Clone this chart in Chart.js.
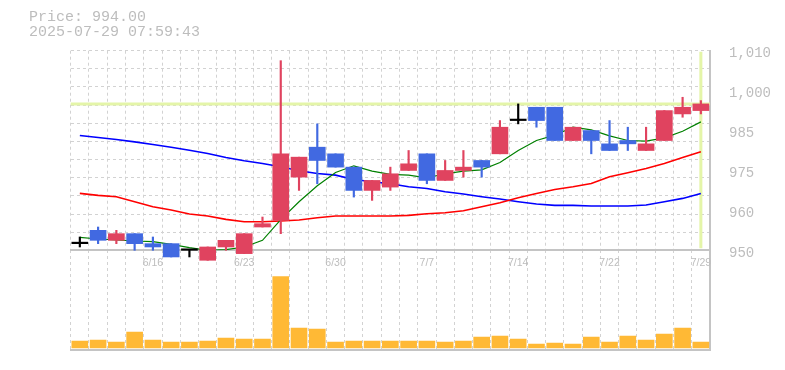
<!DOCTYPE html>
<html>
<head>
<meta charset="utf-8">
<script src="https://cdn.jsdelivr.net/npm/chart.js@4.4.1/dist/chart.umd.min.js"></script>
<style>
  body { margin: 0; background: #fff; }
  #wrap { position: relative; width: 785px; height: 370px; overflow: hidden; }
  #info { position: absolute; left: 29px; top: 11px; font: 15px "Liberation Mono", monospace; line-height: 14.5px; color: #bdbdbd; z-index: 3; }
  canvas { position: absolute; left: 0; top: 0; }
  #price { z-index: 2; }
  #volume { z-index: 1; }
</style>
</head>
<body>
<div id="wrap">
  <div id="info">Price: 994.00<br>2025-07-29 07:59:43</div>
  <canvas id="volume" width="785" height="370"></canvas>
  <canvas id="price" width="785" height="275"></canvas>
</div>
<script>
// trading days
const categories = ['6/10','6/11','6/12','6/13','6/16','6/17','6/18','6/19','6/20','6/23','6/24','6/25','6/26','6/27','6/30','7/1','7/2','7/3','7/4','7/7','7/8','7/9','7/10','7/11','7/14','7/15','7/16','7/17','7/18','7/22','7/23','7/24','7/25','7/28','7/29'];
const tickLabels = ['6/16','6/23','6/30','7/7','7/14','7/22','7/29'];

const open  = [952,956,953,955,952,952,948,947,951,949,957,959,972,981,979,975,968,969,974,979,971,974,977,979,989,993,993,983,986,982,983,980,983,991,992];
const high  = [954,957,956,955,954,952,950,951,953,955,960,1007,978,988,979,975,971,975,980,979,977,980,977,989,994,993,993,987,986,989,987,987,992,996,995];
const low   = [951,952,952,950,950,948,948,947,950,949,957,955,968,970,975,966,965,968,974,970,971,972,972,979,988,987,983,983,979,980,980,980,983,990,991];
const close = [952,953,955,952,951,948,948,951,953,955,958,979,978,977,975,968,971,973,976,971,974,975,975,987,989,989,983,987,983,980,982,982,992,993,994];

const ma5  = [953.9,953.4,953.1,952.8,952.6,951.8,950.8,950.0,950.2,951.0,953.0,959.2,964.6,969.4,973.4,975.4,973.8,972.8,972.6,971.8,973.0,973.8,974.2,976.4,980.0,983.0,984.6,987.0,986.2,984.4,983.0,982.8,983.8,985.8,988.6];
const ma25 = [967.1,966.5,966.1,964.6,963.1,962.1,960.9,960.3,959.3,958.6,958.6,958.8,959.1,959.8,960.3,960.3,960.3,960.3,960.5,961.0,961.3,961.9,963.1,964.3,965.8,967.1,968.3,969.1,970.1,972.1,973.3,974.6,976.1,977.9,979.6];
const ma75 = [984.5,983.9,983.3,982.6,981.8,981.0,980.1,979.1,977.9,976.9,976.1,975.1,973.9,973.1,972.6,971.3,970.6,970.0,969.1,968.6,967.6,966.9,966.1,965.4,964.6,963.9,963.5,963.5,963.3,963.3,963.3,963.6,964.6,965.6,967.1];

const volumes = [210,240,180,480,240,180,180,210,300,270,270,2140,600,570,180,210,210,210,210,210,180,210,330,360,270,120,150,120,330,180,360,240,420,600,180];

const lastPrice = 994;
const yTickValues = [950, 962, 974, 986, 998, 1010];
const yTickLabels = ['950', '960', '975', '985', '1,000', '1,010'];

const UP = '#e0435f', DOWN = '#4169e1', FLAT = '#000000';
const candleColors = open.map((o, i) => close[i] > o ? UP : (close[i] < o ? DOWN : FLAT));
const bodies = open.map((o, i) => [o, close[i]]);
const wicks = low.map((l, i) => [l, high[i]]);

const gridValues = [];
for (let i = 0; i <= 11; i++) gridValues.push(950 + i * 60 / 11);

const GRID = '#d2d2d2', AXIS = '#c4c4c4', TEXT = '#bdbdbd';

const priceMarker = {
    id: 'priceMarker',
    beforeDatasetsDraw(chart) {
        const { ctx, chartArea: a, scales: { x, y } } = chart;
        const py = y.getPixelForValue(lastPrice);
        const px = x.getPixelForValue(categories.length - 1);
        ctx.save();
        ctx.strokeStyle = '#e4f5a8';
        ctx.lineWidth = 3;
        ctx.beginPath();
        ctx.moveTo(a.left, py);
        ctx.lineTo(a.right, py);
        ctx.moveTo(px, a.top + 1);
        ctx.lineTo(px, a.bottom - 2);
        ctx.stroke();
        ctx.restore();
    }
};

new Chart(document.getElementById('price'), {
    type: 'bar',
    data: {
        labels: categories,
        datasets: [
            { type: 'bar', data: bodies, backgroundColor: candleColors, barThickness: 16, minBarLength: 1.5, grouped: false, clip: false, order: 1 },
            { type: 'bar', data: wicks, backgroundColor: candleColors, barThickness: 1.5, grouped: false, clip: false, order: 2 },
            { type: 'line', data: ma5, borderColor: '#008000', borderWidth: 1.2, pointRadius: 0, tension: 0, order: 3 },
            { type: 'line', data: ma25, borderColor: '#ff0000', borderWidth: 1.6, pointRadius: 0, tension: 0, order: 4 },
            { type: 'line', data: ma75, borderColor: '#0000ff', borderWidth: 1.6, pointRadius: 0, tension: 0, order: 5 }
        ]
    },
    options: {
        responsive: false,
        animation: false,
        devicePixelRatio: 1,
        layout: { padding: { left: 70.7, top: 50.7, right: 0, bottom: 0 } },
        plugins: { legend: { display: false }, tooltip: { enabled: false } },
        scales: {
            x: {
                offset: true,
                grid: { offset: true, color: GRID, drawTicks: false },
                border: { color: AXIS, width: 2, dash: [3, 3] },
                ticks: {
                    autoSkip: false, maxRotation: 0, minRotation: 0,
                    callback: (v, i) => tickLabels.includes(categories[i]) ? categories[i] : '',
                    color: TEXT, font: { family: 'Liberation Sans', size: 10.5 }, padding: 7
                },
                afterFit: s => { s.height = 24.7; }
            },
            y: {
                position: 'right', min: 950, max: 1010,
                afterBuildTicks: s => { s.ticks = yTickValues.map(v => ({ value: v })); },
                ticks: {
                    callback: (v, i) => yTickLabels[i],
                    color: TEXT, font: { family: 'Liberation Mono', size: 14 }, padding: 11, labelOffset: 2.5
                },
                grid: { display: false },
                border: { color: AXIS, width: 2 },
                afterFit: s => { s.width = 75; }
            },
            y2: {
                position: 'left', min: 950, max: 1010,
                afterBuildTicks: s => { s.ticks = gridValues.map(v => ({ value: v })); },
                ticks: { display: false },
                grid: { color: GRID, drawTicks: false },
                border: { display: false, dash: [3, 3] },
                afterFit: s => { s.width = 0; }
            }
        }
    },
    plugins: [priceMarker]
});

new Chart(document.getElementById('volume'), {
    type: 'bar',
    data: {
        labels: categories,
        datasets: [{ data: volumes, backgroundColor: '#ffb935', barThickness: 16 }]
    },
    options: {
        responsive: false,
        animation: false,
        devicePixelRatio: 1,
        layout: { padding: { left: 70.7, top: 250, right: 0, bottom: 20 } },
        plugins: { legend: { display: false }, tooltip: { enabled: false } },
        scales: {
            x: {
                grid: { color: GRID, drawTicks: false },
                border: { color: AXIS, width: 2, dash: [3, 3] },
                ticks: { display: false },
                afterFit: s => { s.height = 0; }
            },
            y: {
                position: 'right', min: -60, max: 2940,
                grid: { display: false },
                ticks: { display: false },
                border: { color: AXIS, width: 2 },
                afterFit: s => { s.width = 75; }
            }
        }
    }
});
</script>
</body>
</html>
